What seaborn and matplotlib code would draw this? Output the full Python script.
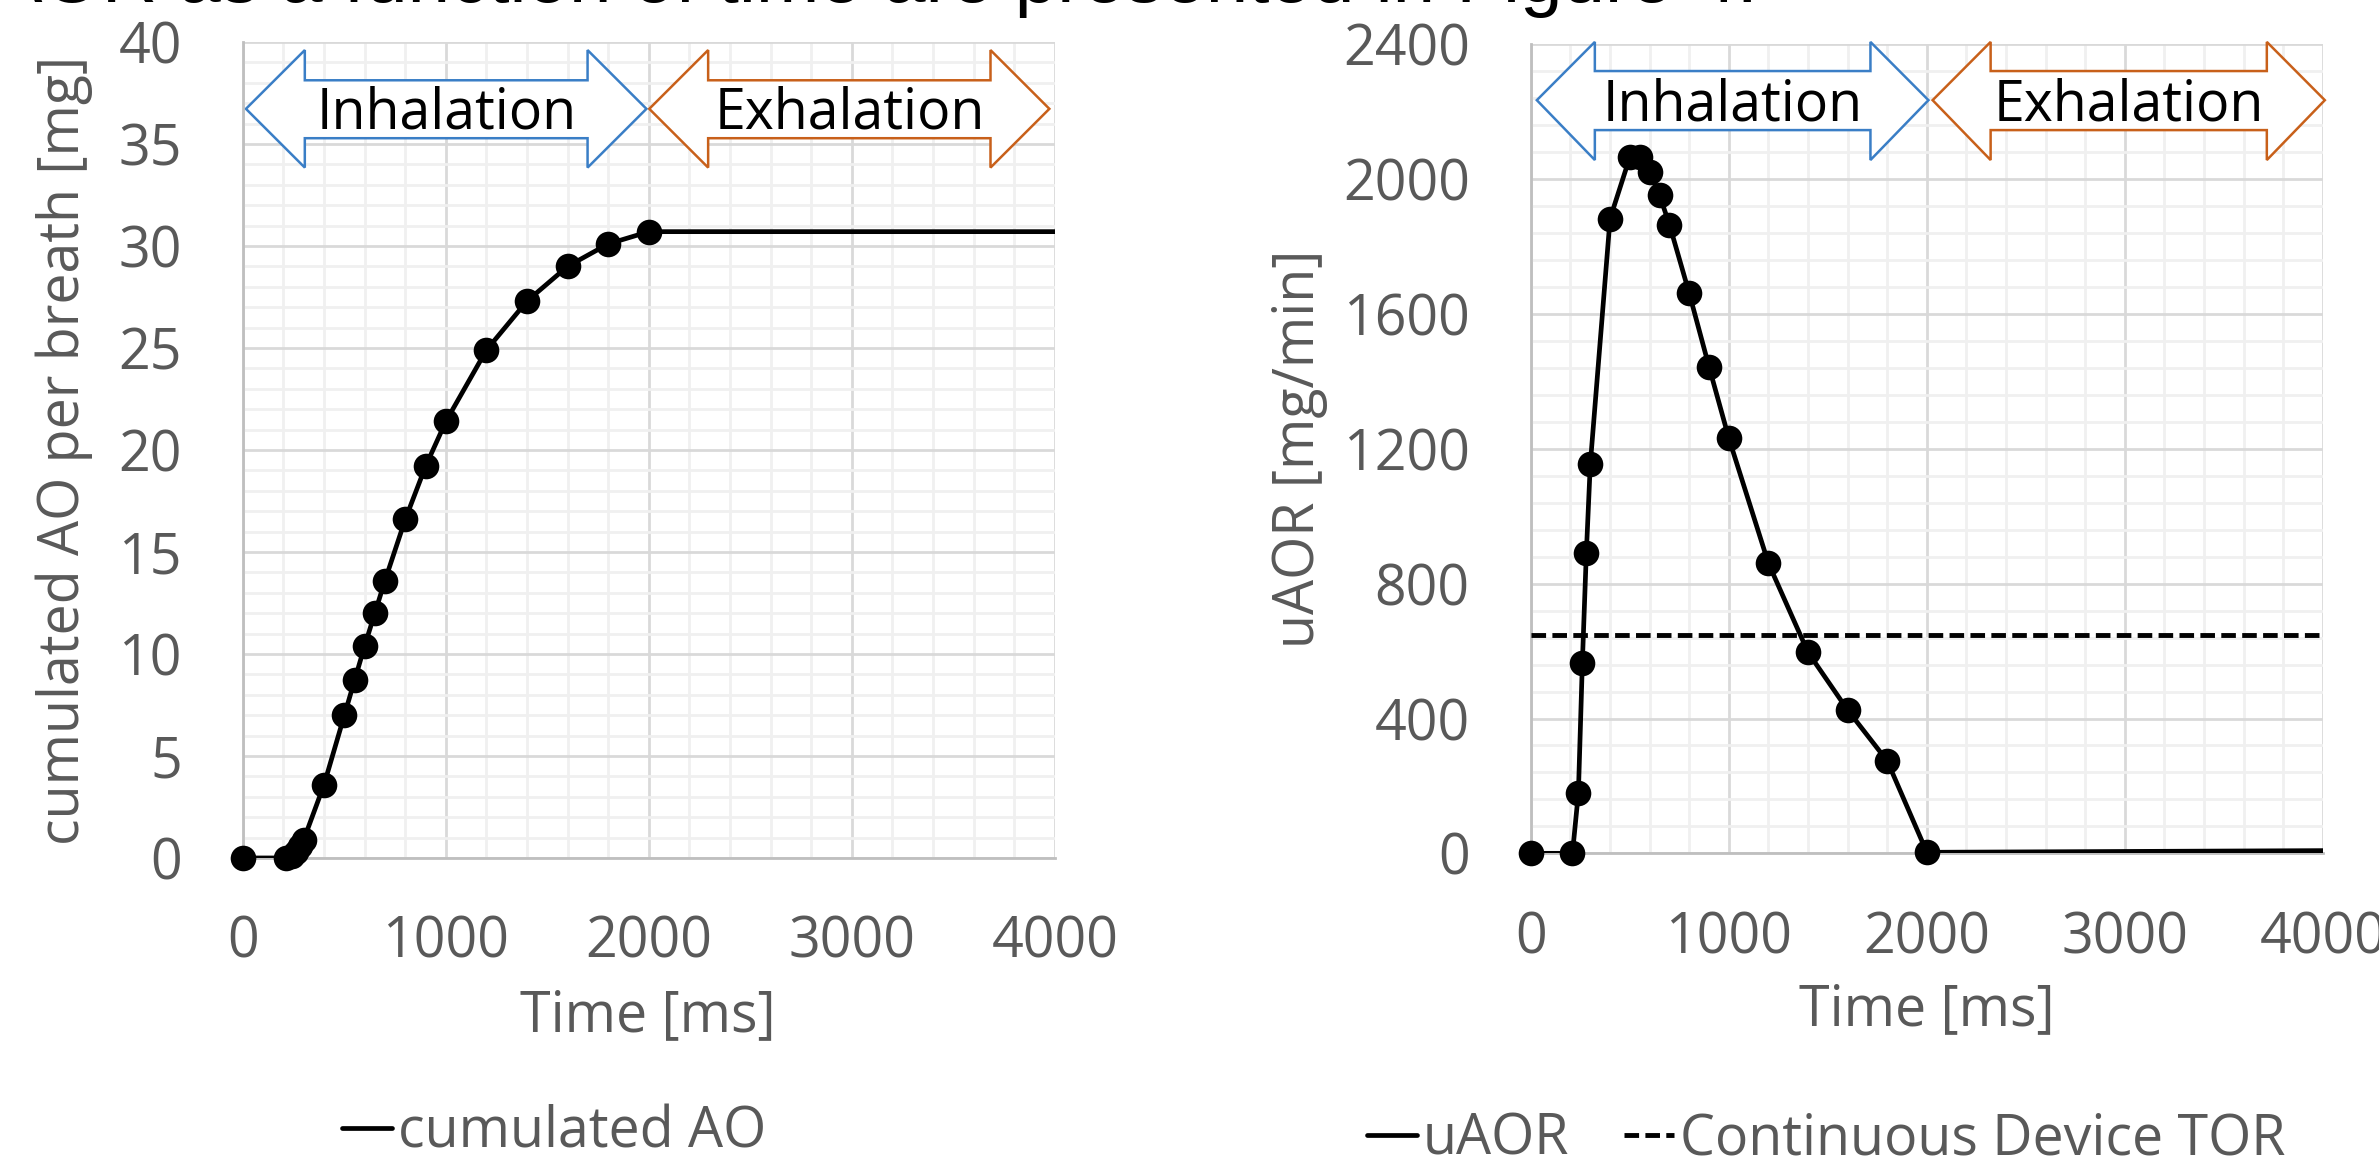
import numpy as np
import pandas as pd
import seaborn as sns
import matplotlib.pyplot as plt
from matplotlib.patches import Polygon
from matplotlib.ticker import MultipleLocator
import matplotlib.transforms as mtransforms

sns.set_style("white")
plt.rcParams["font.family"] = ["Open Sans", "DejaVu Sans"]

# data
time_ms = [0, 210, 240, 260, 280, 300, 400, 500, 550, 600, 650, 700,
           800, 900, 1000, 1200, 1400, 1600, 1800, 2000]
cum_ao = [0, 0, 0.1, 0.3, 0.6, 0.9, 3.6, 7.0, 8.7, 10.4, 12.0, 13.6,
          16.6, 19.2, 21.4, 24.9, 27.3, 29.0, 30.1, 30.7]
uaor = [0, 0, 180, 566, 890, 1154, 1883, 2066, 2066, 2021, 1952, 1865,
        1661, 1443, 1231, 860, 596, 425, 274, 3]
t_end = 4000
cum_ao_end = 30.7
uaor_end = 8
device_tor = 648

grey = "#595959"
fs = 40

df = pd.DataFrame({"t": time_ms, "cum": cum_ao, "uaor": uaor})
df_line = pd.concat([df, pd.DataFrame({"t": [t_end], "cum": [cum_ao_end], "uaor": [uaor_end]})],
                    ignore_index=True)

fig = plt.figure(figsize=(23.79, 11.58), dpi=100)
ax1 = fig.add_axes([0.1021, 0.2591, 0.3413, 0.7047])
ax2 = fig.add_axes([0.6435, 0.2631, 0.3329, 0.6986])


def style_axis(ax, ymax, ymaj, ymin_step):
    ax.set_xlim(0, 4000)
    ax.set_ylim(0, ymax)
    ax.xaxis.set_major_locator(MultipleLocator(1000))
    ax.xaxis.set_minor_locator(MultipleLocator(200))
    ax.yaxis.set_major_locator(MultipleLocator(ymaj))
    ax.yaxis.set_minor_locator(MultipleLocator(ymin_step))
    ax.grid(which="minor", color="#F0F0F0", lw=2.0, zorder=0)
    ax.grid(which="major", color="#D9D9D9", lw=2.0, zorder=0)
    ax.set_axisbelow(True)
    ax.tick_params(axis="both", which="both", length=0, labelsize=fs, labelcolor=grey)
    ax.tick_params(axis="x", pad=41)
    ax.tick_params(axis="y", pad=44)
    for side in ["top", "right"]:
        ax.spines[side].set_visible(False)
    for side in ["left", "bottom"]:
        ax.spines[side].set_color("#BFBFBF")
        ax.spines[side].set_linewidth(2)


def double_arrow(ax, x0, x1, color, label, yf, head=290):
    top_h, top_s, mid, bot_s, bot_h = yf
    trans = mtransforms.blended_transform_factory(ax.transData, ax.transAxes)
    pts = [(x0, mid), (x0 + head, top_h), (x0 + head, top_s), (x1 - head, top_s),
           (x1 - head, top_h), (x1, mid), (x1 - head, bot_h), (x1 - head, bot_s),
           (x0 + head, bot_s), (x0 + head, bot_h)]
    ax.add_patch(Polygon(pts, closed=True, facecolor="white", edgecolor=color,
                         lw=1.8, transform=trans, clip_on=False, zorder=2.5))
    cap = 40 / (ax.get_position().height * fig.get_figheight() * fig.dpi)
    ax.text((x0 + x1) / 2, mid - cap / 2, label, transform=trans, ha="center",
            va="baseline", fontsize=fs, color="black", zorder=2.6)


# left chart: cumulated AO
style_axis(ax1, 40, 5, 1)
sns.lineplot(data=df_line, x="t", y="cum", ax=ax1, color="black", lw=3.4,
             label="cumulated AO", zorder=3)
sns.scatterplot(data=df, x="t", y="cum", ax=ax1, color="black", s=340,
                edgecolor="black", linewidth=0, zorder=4, clip_on=False, legend=False)
ax1_arrows = (0.990, 0.953, 0.918, 0.882, 0.846)
double_arrow(ax1, 15, 1988, "#3A7EC6", "Inhalation", ax1_arrows)
double_arrow(ax1, 2002, 3973, "#C8601A", "Exhalation", ax1_arrows)
ax1.set_xlabel("Time [ms]", fontsize=fs, color=grey)
ax1.set_ylabel("cumulated AO per breath [mg]", fontsize=fs, color=grey)
ax1.xaxis.set_label_coords(0.499, -0.160)
ax1.yaxis.set_label_coords(-0.184, 0.5)
ax1.legend(loc="center", bbox_to_anchor=(554 / 2379, 1 - 1133 / 1158),
           bbox_transform=fig.transFigure, frameon=False, fontsize=fs,
           handlelength=0.9, handletextpad=0.1, labelcolor=grey)

# right chart: uAOR
style_axis(ax2, 2400, 400, 80)
sns.lineplot(data=df_line, x="t", y="uaor", ax=ax2, color="black", lw=3.4,
             label="uAOR", zorder=3)
sns.scatterplot(data=df, x="t", y="uaor", ax=ax2, color="black", s=340,
                edgecolor="black", linewidth=0, zorder=4, clip_on=False, legend=False)
ax2.axhline(device_tor, color="black", lw=3.5, ls=(0, (3, 1.3)),
            label="Continuous Device TOR", zorder=3)
ax2_arrows = (1.003, 0.967, 0.931, 0.894, 0.857)
double_arrow(ax2, 30, 2008, "#3A7EC6", "Inhalation", ax2_arrows, head=293)
double_arrow(ax2, 2029, 4010, "#C8601A", "Exhalation", ax2_arrows, head=293)
ax2.set_xlabel("Time [ms]", fontsize=fs, color=grey)
ax2.set_ylabel("uAOR [mg/min]", fontsize=fs, color=grey)
ax2.xaxis.set_label_coords(0.5, -0.159)
ax2.yaxis.set_label_coords(-0.256, 0.5)
ax2.legend(loc="center", bbox_to_anchor=(1826 / 2379, 1 - 1140 / 1158),
           bbox_transform=fig.transFigure, frameon=False, fontsize=fs,
           handlelength=0.9, handletextpad=0.1, columnspacing=1.0,
           ncol=2, labelcolor=grey)

# cut-off line of body text at the very top
fig.text(1758 / 2379, 1 - 2 / 1158, "uAOR as a function of time are presented in Figure 4.",
         ha="right", va="baseline", fontsize=55, color="black",
         family=["Liberation Sans", "DejaVu Sans"])

fig.savefig("out.png", dpi=100)
